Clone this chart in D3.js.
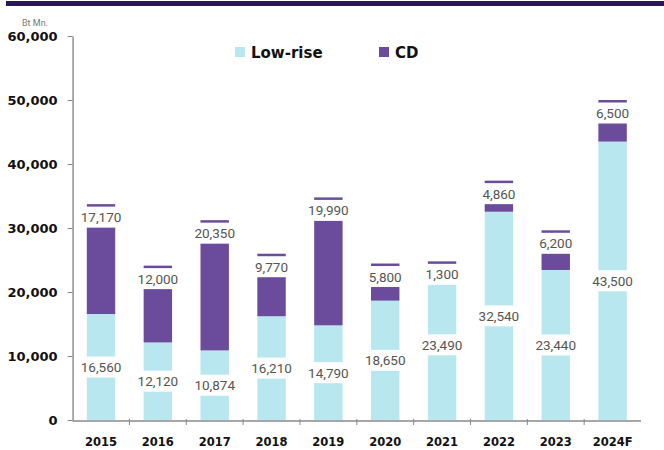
<!DOCTYPE html>
<html>
<head>
<meta charset="utf-8">
<script src="https://cdn.jsdelivr.net/npm/d3@7"></script>
<style>
  body { margin: 0; background: #fff; }
  svg { display: block; }
</style>
</head>
<body>
<div id="chart"></div>
<script>
const years = ['2015', '2016', '2017', '2018', '2019', '2020', '2021', '2022', '2023', '2024F'];
const lowRise = [16560, 12120, 10874, 16210, 14790, 18650, 23490, 32540, 23440, 43500];
const cd = [17170, 12000, 20350, 9770, 19990, 5800, 1300, 4860, 6200, 6500];
const yTicks = [0, 10000, 20000, 30000, 40000, 50000, 60000];

const W = 664, H = 450;
const margin = { top: 36, left: 72.6, right: 23, bottom: 30 };
const colLow = '#b9e7ef', colCD = '#6b4c9c';

const svg = d3.select('#chart').append('svg')
  .attr('width', W).attr('height', H);

// top banner
svg.append('rect').attr('x', 6).attr('y', 1).attr('width', W - 6).attr('height', 5)
  .attr('fill', '#2b1751');

const x = d3.scaleBand()
  .domain(years)
  .range([margin.left, W - margin.right])
  .paddingInner(0.5)
  .paddingOuter(0.25);

const y = d3.scaleLinear()
  .domain([0, 60000])
  .range([H - margin.bottom, margin.top]);

// y axis
const yAxis = svg.append('g')
  .attr('transform', `translate(${margin.left},0)`)
  .call(d3.axisLeft(y).tickValues(yTicks).tickFormat(d3.format(',')).tickSize(5).tickSizeOuter(0).tickPadding(10));
yAxis.select('.domain').attr('stroke', '#888').attr('stroke-width', 1.4);
yAxis.selectAll('.tick line').attr('stroke', '#888');
yAxis.selectAll('text')
  .attr('fill', '#111')
  .style('font-family', 'DejaVu Sans')
  .style('font-weight', 'bold')
  .style('font-size', '13px');

svg.append('text')
  .attr('x', 35).attr('y', 26)
  .attr('text-anchor', 'middle')
  .attr('fill', '#777')
  .style('font-family', 'Roboto')
  .style('font-size', '9px')
  .text('Bt Mn.');

// bars
const data = years.map((yr, i) => ({ year: yr, low: lowRise[i], cd: cd[i], total: lowRise[i] + cd[i] }));

const g = svg.append('g');
g.selectAll('.low').data(data).enter().append('rect')
  .attr('class', 'low')
  .attr('x', d => x(d.year))
  .attr('width', x.bandwidth())
  .attr('y', d => y(d.low))
  .attr('height', d => y(0) - y(d.low))
  .attr('fill', colLow);

g.selectAll('.cd').data(data).enter().append('rect')
  .attr('class', 'cd')
  .attr('x', d => x(d.year))
  .attr('width', x.bandwidth())
  .attr('y', d => y(d.total))
  .attr('height', d => y(d.low) - y(d.total))
  .attr('fill', colCD);

// x axis
const axisY = y(0) + 1;
svg.append('line')
  .attr('x1', margin.left).attr('x2', W - margin.right)
  .attr('y1', axisY).attr('y2', axisY)
  .attr('stroke', '#888').attr('stroke-width', 1.4);

const bounds = years.map(yr => x(yr) - x.step() * x.paddingInner() / 2);
svg.selectAll('.xtick').data(bounds.slice(1)).enter().append('line')
  .attr('x1', d => d).attr('x2', d => d)
  .attr('y1', axisY - 2).attr('y2', axisY + 4)
  .attr('stroke', '#888').attr('stroke-width', 1);

svg.selectAll('.xlabel').data(years).enter().append('text')
  .attr('x', d => x(d) + x.bandwidth() / 2)
  .attr('y', axisY + 25)
  .attr('text-anchor', 'middle')
  .attr('fill', '#111')
  .style('font-family', 'DejaVu Sans')
  .style('font-weight', 'bold')
  .style('font-size', '11.5px')
  .text(d => d);

// value labels with white boxes
const fmt = d3.format(',');
function label(cx, cy, value) {
  const lg = svg.append('g');
  const t = lg.append('text')
    .attr('x', cx).attr('y', cy)
    .attr('text-anchor', 'middle')
    .attr('dominant-baseline', 'central')
    .attr('fill', '#555')
    .style('font-family', 'Roboto')
    .style('font-size', '13.5px')
    .text(fmt(value));
  const w = t.node().getComputedTextLength() + 6;
  lg.insert('rect', 'text')
    .attr('x', cx - w / 2).attr('y', cy - 10.5)
    .attr('width', w).attr('height', 21)
    .attr('fill', '#fff');
}

data.forEach(d => {
  const cx = x(d.year) + x.bandwidth() / 2;
  label(cx, y(d.total) + 13, d.cd);
  label(cx, y(d.low / 2), d.low);
});

// legend
const legend = [
  { name: 'Low-rise', color: colLow, x: 235 },
  { name: 'CD', color: colCD, x: 379 }
];
const lg = svg.selectAll('.legend').data(legend).enter().append('g');
lg.append('rect')
  .attr('x', d => d.x).attr('y', 47)
  .attr('width', 10).attr('height', 10)
  .attr('fill', d => d.color);
lg.append('text')
  .attr('x', d => d.x + 16).attr('y', 57.5)
  .attr('fill', '#111')
  .style('font-family', 'DejaVu Sans')
  .style('font-weight', 'bold')
  .style('font-size', '15px')
  .text(d => d.name);
</script>
</body>
</html>
